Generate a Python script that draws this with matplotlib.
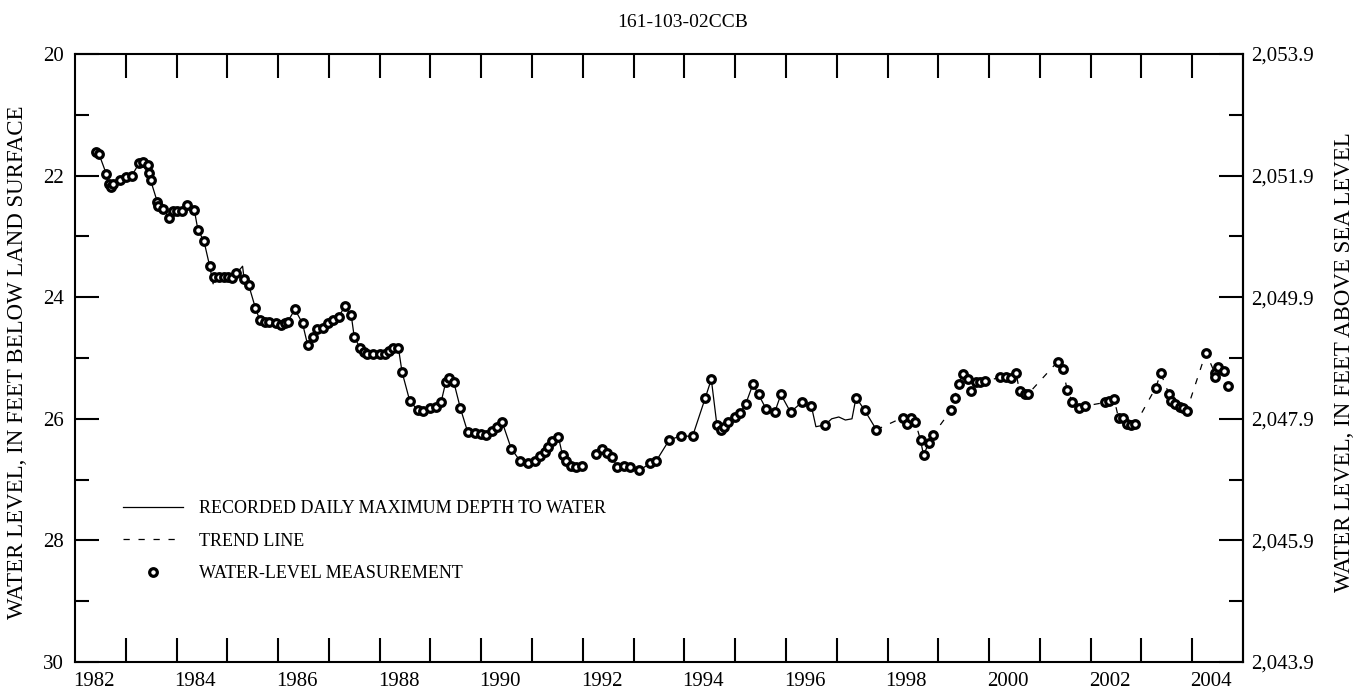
import numpy as np
import matplotlib
matplotlib.use("Agg")
import matplotlib.pyplot as plt
from matplotlib.lines import Line2D
from matplotlib.ticker import FixedLocator, NullFormatter, FuncFormatter

plt.rcParams['font.family'] = ['Liberation Serif', 'DejaVu Serif']

# ---------------- data ----------------
title = "161-103-02CCB"
land_surface_altitude = 2073.9
year_labels = [1982, 1984, 1986, 1988, 1990, 1992, 1994, 1996, 1998, 2000, 2002, 2004]
depth_ticks = [20, 22, 24, 26, 28, 30]
elev_ticks = [2053.9, 2051.9, 2049.9, 2047.9, 2045.9, 2043.9]

# water-level measurements (decimal year, depth below land surface, ft)
meas_year = [
    1982.41, 1982.47, 1982.62, 1982.66, 1982.70, 1982.75, 1982.89, 1983.00, 1983.12, 1983.26,
    1983.33, 1983.43, 1983.45, 1983.49, 1983.62, 1983.64, 1983.74, 1983.85, 1983.92, 1984.01,
    1984.11, 1984.21, 1984.35, 1984.42, 1984.54, 1984.65, 1984.73, 1984.84, 1984.93, 1985.01,
    1985.09, 1985.18, 1985.33, 1985.42, 1985.55, 1985.64, 1985.74, 1985.83, 1985.95, 1986.05,
    1986.13, 1986.19, 1986.33, 1986.48, 1986.58, 1986.68, 1986.76, 1986.88, 1986.99, 1987.09,
    1987.19, 1987.31, 1987.44, 1987.50, 1987.62, 1987.70, 1987.75, 1987.87, 1988.00, 1988.11,
    1988.19, 1988.27, 1988.37, 1988.44, 1988.59, 1988.75, 1988.86, 1988.99, 1989.11, 1989.21,
    1989.30, 1989.36, 1989.46, 1989.59, 1989.73, 1989.88, 1990.00, 1990.10, 1990.21, 1990.31,
    1990.41, 1990.59, 1990.77, 1990.93, 1991.06, 1991.16, 1991.26, 1991.32, 1991.40, 1991.52,
    1991.60, 1991.67, 1991.77, 1991.87, 1991.99, 1992.26, 1992.38, 1992.48, 1992.58, 1992.68,
    1992.81, 1992.93, 1993.11, 1993.33, 1993.44, 1993.70, 1993.93, 1994.16, 1994.41, 1994.53,
    1994.64, 1994.73, 1994.78, 1994.86, 1994.99, 1995.10, 1995.21, 1995.35, 1995.46, 1995.61,
    1995.78, 1995.90, 1996.09, 1996.31, 1996.50, 1996.77, 1997.38, 1997.55, 1997.78, 1998.30,
    1998.38, 1998.47, 1998.55, 1998.65, 1998.71, 1998.81, 1998.89, 1999.25, 1999.32, 1999.40,
    1999.49, 1999.58, 1999.65, 1999.74, 1999.83, 1999.91, 2000.22, 2000.34, 2000.43, 2000.53,
    2000.60, 2000.70, 2000.76, 2001.35, 2001.45, 2001.54, 2001.64, 2001.78, 2001.89, 2002.29,
    2002.37, 2002.46, 2002.55, 2002.63, 2002.71, 2002.79, 2002.88, 2003.28, 2003.38, 2003.54,
    2003.59, 2003.66, 2003.75, 2003.81, 2003.89, 2004.27, 2004.44, 2004.45, 2004.51, 2004.63,
    2004.70,
]
meas_depth = [
    21.62, 21.64, 21.98, 22.13, 22.18, 22.13, 22.07, 22.03, 22.00, 21.80,
    21.78, 21.83, 21.96, 22.08, 22.43, 22.50, 22.55, 22.69, 22.58, 22.58,
    22.58, 22.49, 22.57, 22.89, 23.08, 23.48, 23.66, 23.66, 23.66, 23.66,
    23.68, 23.61, 23.70, 23.80, 24.17, 24.38, 24.40, 24.40, 24.43, 24.45,
    24.43, 24.40, 24.20, 24.43, 24.78, 24.65, 24.52, 24.50, 24.42, 24.38,
    24.33, 24.15, 24.30, 24.66, 24.84, 24.90, 24.93, 24.93, 24.93, 24.93,
    24.88, 24.83, 24.84, 25.23, 25.70, 25.86, 25.87, 25.83, 25.80, 25.72,
    25.40, 25.33, 25.40, 25.83, 26.21, 26.24, 26.25, 26.27, 26.20, 26.14,
    26.05, 26.49, 26.70, 26.72, 26.70, 26.62, 26.55, 26.46, 26.36, 26.30,
    26.60, 26.70, 26.78, 26.80, 26.78, 26.58, 26.50, 26.57, 26.63, 26.80,
    26.78, 26.80, 26.85, 26.73, 26.70, 26.35, 26.28, 26.29, 25.66, 25.35,
    26.10, 26.18, 26.14, 26.06, 25.97, 25.90, 25.75, 25.43, 25.60, 25.84,
    25.89, 25.60, 25.89, 25.73, 25.79, 26.10, 25.65, 25.86, 26.18, 25.98,
    26.09, 25.98, 26.06, 26.35, 26.60, 26.40, 26.27, 25.86, 25.65, 25.42,
    25.26, 25.35, 25.55, 25.40, 25.39, 25.38, 25.32, 25.32, 25.33, 25.24,
    25.55, 25.59, 25.60, 25.06, 25.18, 25.53, 25.72, 25.83, 25.79, 25.73,
    25.71, 25.67, 25.99, 25.99, 26.09, 26.11, 26.09, 25.49, 25.25, 25.59,
    25.70, 25.76, 25.81, 25.83, 25.87, 24.91, 25.24, 25.32, 25.15, 25.22,
    25.46,
]

# extra vertices of the recorded daily-maximum trace between measurements
rec_extra_year = [1984.72, 1985.30, 1996.59, 1996.90, 1997.04, 1997.17, 1997.30]
rec_extra_depth = [23.78, 23.49, 26.13, 26.00, 25.97, 26.02, 26.00]

# periods with a continuous recorder
rec_periods = [(1982.40, 1992.00), (1992.25, 1997.79)]
trend_start = 1997.78

# ---------------- figure ----------------
fig = plt.figure(figsize=(13.63, 6.93), dpi=100)
ax = fig.add_axes([75 / 1363, 31 / 693, 1168 / 1363, 608 / 693])

my = np.array(meas_year)
md = np.array(meas_depth)
ey = np.array(rec_extra_year)
ed = np.array(rec_extra_depth)
all_y = np.concatenate([my, ey])
all_d = np.concatenate([md, ed])
order = np.argsort(all_y)
all_y, all_d = all_y[order], all_d[order]

for (a, b) in rec_periods:
    sel = (all_y >= a) & (all_y <= b)
    ax.plot(all_y[sel], all_d[sel], color='black', lw=0.9, zorder=2)

tsel = my >= trend_start
ax.plot(my[tsel], md[tsel], color='black', lw=0.9, ls=(0, (5, 7)), zorder=2)

ax.plot(my, md, ls='none', marker='o', ms=5.5, mfc='white', mec='black', mew=2.3, zorder=3)

ax.set_xlim(1982, 2005)
ax.set_ylim(30, 20)

# x ticks: yearly boundaries (unlabeled) + labels centred in year
ax.xaxis.set_major_locator(FixedLocator(list(range(1983, 2005))))
ax.xaxis.set_major_formatter(NullFormatter())
ax.xaxis.set_minor_locator(FixedLocator([y + 0.37 for y in year_labels]))
ax.xaxis.set_minor_formatter(FuncFormatter(lambda v, p: str(int(round(v - 0.37)))))
ax.tick_params(axis='x', which='major', direction='in', length=17, width=1.5, top=True, bottom=True)
ax.tick_params(axis='x', which='minor', length=0, labelsize=15, pad=7)

ax.yaxis.set_major_locator(FixedLocator(depth_ticks))
ax.yaxis.set_minor_locator(FixedLocator(list(range(21, 30, 2))))
ax.yaxis.set_major_formatter(FuncFormatter(lambda v, p: f"{v:.0f}"))
ax.tick_params(axis='y', which='major', direction='in', length=17, width=1.5, labelsize=15, pad=8, right=False)
ax.tick_params(axis='y', which='minor', direction='in', length=10, width=1.5, right=False)

for s in ax.spines.values():
    s.set_linewidth(1.5)

sec = ax.secondary_yaxis('right', functions=(lambda d: land_surface_altitude - d,
                                             lambda e: land_surface_altitude - e))
sec.yaxis.set_major_locator(FixedLocator(elev_ticks))
sec.yaxis.set_minor_locator(FixedLocator([t + 1 for t in elev_ticks[1:]]))
sec.yaxis.set_major_formatter(FuncFormatter(lambda v, p: f"{v:,.1f}"))
sec.tick_params(axis='y', which='major', direction='in', length=17, width=1.5, labelsize=15, pad=6)
sec.tick_params(axis='y', which='minor', direction='in', length=10, width=1.5)
sec.spines['right'].set_linewidth(1.5)

axis_mid_y = 1 - 362 / 693
fig.text(18 / 1363, axis_mid_y, "WATER LEVEL, IN FEET BELOW LAND SURFACE", fontsize=16.5,
         rotation=90, ha='center', va='center')
fig.text(1345 / 1363, axis_mid_y, "WATER LEVEL, IN FEET ABOVE SEA LEVEL", fontsize=16.5,
         rotation=90, ha='center', va='center')

fig.text(0.501, 0.967, title, ha='center', va='center', fontsize=14)

handles = [
    Line2D([], [], color='black', lw=0.9),
    Line2D([], [], color='black', lw=0.9, ls=(0, (5, 7))),
    Line2D([], [], ls='none', marker='o', ms=5.5, mfc='white', mec='black', mew=2.3),
]
labels = ["RECORDED DAILY MAXIMUM DEPTH TO WATER", "TREND LINE", "WATER-LEVEL MEASUREMENT"]
ax.legend(handles, labels, loc='upper left', bbox_to_anchor=(0.0411, 0.266), frameon=False,
          fontsize=13, handlelength=3.3, handletextpad=0.9, labelspacing=0.85,
          borderpad=0, borderaxespad=0, numpoints=1)

fig.savefig("out.png", dpi=100)
